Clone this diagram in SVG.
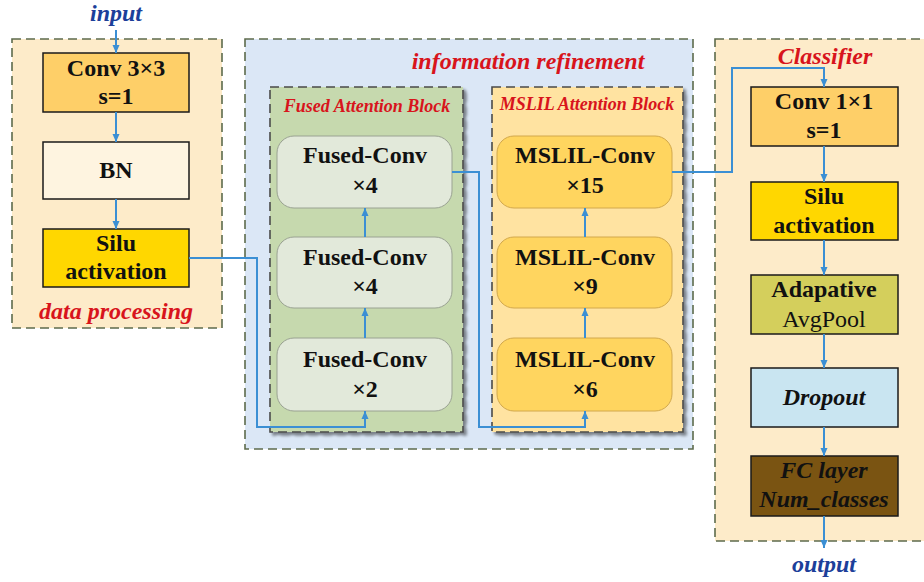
<svg xmlns="http://www.w3.org/2000/svg" width="924" height="582" viewBox="0 0 924 582">
<defs>
<marker id="ah" markerUnits="userSpaceOnUse" markerWidth="8" markerHeight="8" viewBox="0 0 8 8" refX="8" refY="4" orient="auto">
<path d="M0,0.5 L8,4 L0,7.5 z" fill="#3b8fd4"/>
</marker>
<filter id="sh" x="-5%" y="-5%" width="115%" height="115%">
<feGaussianBlur in="SourceAlpha" stdDeviation="1.5"/>
<feOffset dx="3" dy="3" result="b"/>
<feComponentTransfer><feFuncA type="linear" slope="0.45"/></feComponentTransfer>
<feMerge><feMergeNode/><feMergeNode in="SourceGraphic"/></feMerge>
</filter>
</defs>
<style>
.outer{stroke:#5d6b4c;stroke-width:1.6;stroke-dasharray:9 5}
.inner{stroke:#4a4a4a;stroke-width:1.6;stroke-dasharray:9 5}
.box{stroke:#1a1a1a;stroke-width:1.5}
.rb{stroke-width:1}
.t{font-family:"Liberation Serif","Times New Roman",serif;font-size:24px;font-weight:bold;fill:#111;text-anchor:middle}
.reg{font-weight:normal}
.it{font-style:italic}
.red{fill:#d8141c;font-style:italic}
.blue{fill:#1c3f9a;font-style:italic}
.sm{font-size:18px}
.conn{fill:none;stroke:#3b8fd4;stroke-width:2}
</style>

<g id="panel-data-processing">
<rect x="12" y="39" width="210" height="289" fill="#fdebc9" class="outer"/>
<text class="t red" x="116" y="319">data processing</text>
</g>
<g id="panel-information-refinement">
<rect x="245" y="39" width="448" height="410" fill="#dbe7f6" class="outer"/>
<text class="t red" x="528" y="69">information refinement</text>
</g>
<g id="panel-fused">
<rect x="270" y="87" width="193" height="345" fill="#c6d9ae" class="inner" filter="url(#sh)"/>
<text class="t red sm" x="367" y="112">Fused Attention Block</text>
</g>
<g id="panel-mslil">
<rect x="492" y="87" width="191" height="345" fill="#ffe3a1" class="inner" filter="url(#sh)"/>
<text class="t red sm" x="587" y="110">MSLIL Attention Block</text>
</g>
<g id="panel-classifier">
<rect x="715" y="39" width="230" height="502" fill="#fdebc9" class="outer"/>
<text class="t red" x="825" y="64">Classifier</text>
</g>

<g id="input-label"><text class="t blue" x="116" y="21">input</text></g>
<g id="output-label"><text class="t blue" x="824" y="572">output</text></g>

<g id="conv3x3">
<rect x="43" y="53" width="146" height="59" fill="#fecf68" class="box"/>
<text class="t" x="116" y="76">Conv 3×3</text>
<text class="t" x="116" y="104">s=1</text>
</g>
<g id="bn">
<rect x="43" y="142" width="146" height="57" fill="#fef4e0" class="box"/>
<text class="t" x="116" y="178">BN</text>
</g>
<g id="silu1">
<rect x="43" y="229" width="146" height="58" fill="#ffd700" class="box"/>
<text class="t" x="116" y="251">Silu</text>
<text class="t" x="116" y="279">activation</text>
</g>

<g id="fused1">
<rect x="277" y="338" width="175" height="73" rx="17" fill="#e2e9da" stroke="#9aa292" class="rb"/>
<text class="t" x="365" y="367">Fused-Conv</text>
<text class="t" x="365" y="397">×2</text>
</g>
<g id="fused2">
<rect x="277" y="237" width="175" height="71" rx="17" fill="#e2e9da" stroke="#9aa292" class="rb"/>
<text class="t" x="365" y="265">Fused-Conv</text>
<text class="t" x="365" y="294">×4</text>
</g>
<g id="fused3">
<rect x="277" y="136" width="175" height="72" rx="17" fill="#e2e9da" stroke="#9aa292" class="rb"/>
<text class="t" x="365" y="163">Fused-Conv</text>
<text class="t" x="365" y="193">×4</text>
</g>

<g id="mslil1">
<rect x="497" y="338" width="175" height="73" rx="17" fill="#ffd55f" stroke="#d2a84c" class="rb"/>
<text class="t" x="585" y="367">MSLIL-Conv</text>
<text class="t" x="585" y="397">×6</text>
</g>
<g id="mslil2">
<rect x="497" y="237" width="175" height="71" rx="17" fill="#ffd55f" stroke="#d2a84c" class="rb"/>
<text class="t" x="585" y="265">MSLIL-Conv</text>
<text class="t" x="585" y="294">×9</text>
</g>
<g id="mslil3">
<rect x="497" y="136" width="175" height="72" rx="17" fill="#ffd55f" stroke="#d2a84c" class="rb"/>
<text class="t" x="585" y="163">MSLIL-Conv</text>
<text class="t" x="585" y="193">×15</text>
</g>

<g id="conv1x1">
<rect x="751" y="87" width="147" height="59" fill="#fecf68" class="box"/>
<text class="t" x="824" y="109">Conv 1×1</text>
<text class="t" x="824" y="138">s=1</text>
</g>
<g id="silu2">
<rect x="751" y="182" width="147" height="58" fill="#ffd700" class="box"/>
<text class="t" x="824" y="204">Silu</text>
<text class="t" x="824" y="233">activation</text>
</g>
<g id="avgpool">
<rect x="751" y="275" width="147" height="59" fill="#d4cf5c" class="box"/>
<text class="t" x="824" y="297">Adapative</text>
<text class="t reg" x="824" y="327">AvgPool</text>
</g>
<g id="dropout">
<rect x="751" y="368" width="147" height="59" fill="#c9e5f1" class="box"/>
<text class="t it" x="824" y="405">Dropout</text>
</g>
<g id="fc">
<rect x="751" y="456" width="147" height="60" fill="#7a5412" class="box"/>
<text class="t it" x="824" y="478" fill="#1e1400">FC layer</text>
<text class="t it" x="824" y="507" fill="#1e1400">Num_classes</text>
</g>

<g id="connectors">
<path class="conn" d="M116,30 V53" marker-end="url(#ah)"/>
<path class="conn" d="M116,112 V142" marker-end="url(#ah)"/>
<path class="conn" d="M116,199 V229" marker-end="url(#ah)"/>
<path class="conn" d="M189,258 H257 V427 H365 V411" marker-end="url(#ah)"/>
<path class="conn" d="M365,338 V308" marker-end="url(#ah)"/>
<path class="conn" d="M365,237 V208" marker-end="url(#ah)"/>
<path class="conn" d="M452,172 H479 V427 H585 V411" marker-end="url(#ah)"/>
<path class="conn" d="M585,338 V308" marker-end="url(#ah)"/>
<path class="conn" d="M585,237 V208" marker-end="url(#ah)"/>
<path class="conn" d="M672,172 H732 V68 H824 V87" marker-end="url(#ah)"/>
<path class="conn" d="M824,146 V182" marker-end="url(#ah)"/>
<path class="conn" d="M824,240 V275" marker-end="url(#ah)"/>
<path class="conn" d="M824,334 V368" marker-end="url(#ah)"/>
<path class="conn" d="M824,427 V456" marker-end="url(#ah)"/>
<path class="conn" d="M824,516 V548" marker-end="url(#ah)"/>
</g>
</svg>
